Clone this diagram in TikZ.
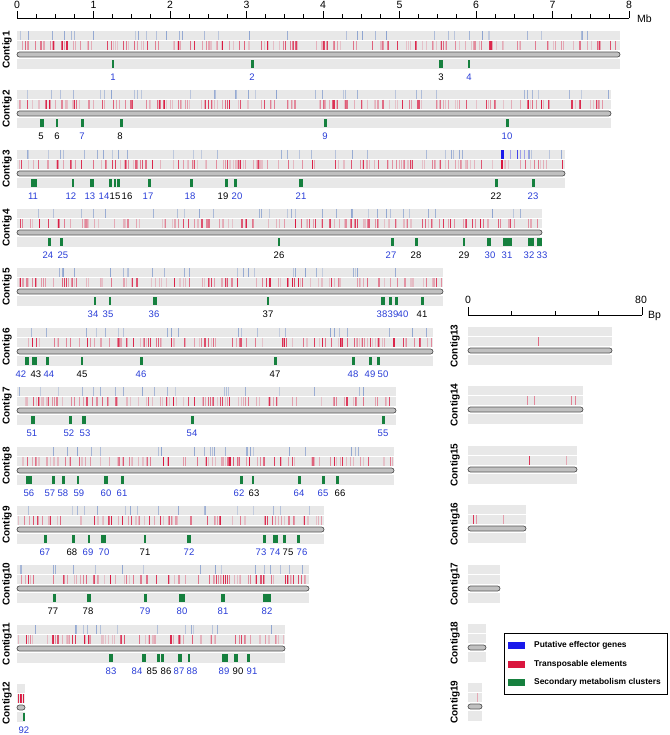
\documentclass[tikz,border=0pt]{standalone}
\usepackage{fontspec}
\setmainfont{Liberation Sans}

\definecolor{trackgray}{RGB}{232,232,232}
\definecolor{bargray}{RGB}{192,192,192}
\definecolor{baredge}{RGB}{85,85,85}
\definecolor{tered}{RGB}{218,22,62}
\definecolor{effblue}{RGB}{25,25,235}
\definecolor{efflight}{RGB}{110,140,200}
\definecolor{smgreen}{RGB}{22,128,62}
\definecolor{lblblue}{RGB}{40,60,215}

\begin{document}
\begin{tikzpicture}[x=1pt, y=-1pt,
  track/.style={fill=trackgray},
  chrom/.style={fill=bargray, draw=baredge, line width=0.7pt, rounded corners=2.5pt},
  smbox/.style={fill=smgreen},
  axline/.style={line width=0.9pt},
  clabel/.style={font=\bfseries\fontsize{10}{11}\selectfont, rotate=90, inner sep=0pt},
  nlabel/.style={font=\fontsize{9.5}{11}\selectfont, inner sep=0pt},
  alabel/.style={font=\fontsize{10.5}{12}\selectfont, inner sep=0pt},
  llabel/.style={font=\bfseries\fontsize{8.4}{10}\selectfont, anchor=west, inner sep=0pt}]

\useasboundingbox (0,0) rectangle (669,735);

% Mb scale
\draw[axline] (17,18) -- (629,18);
\foreach \i in {1,...,31} {
\draw[axline] ({17+76.5*\i/4},18) -- ({17+76.5*\i/4},14.5);
}
\foreach \i in {0,...,8} {
\draw[axline] ({17+76.5*\i},18) -- ({17+76.5*\i},11);
\node[alabel] (mb\i) at ({17+76.5*\i},5) {\i};
}
\node[alabel, anchor=west] (mb) at (637,19) {Mb};

% Large contigs: tracks, random TE and effector marks, bar
\foreach \cn/\yy/\xe in {1/31/620, 2/90/611, 3/150/565, 4/209/542, 5/268/443, 6/328/433,
  7/387/396, 8/447/394, 9/506/324, 10/565/309, 11/625/285, 12/684/25} {
\fill[track] (17,\yy) rectangle (\xe,\yy+9);
\fill[track] (17,\yy+10) rectangle (\xe,\yy+19);
\fill[track] (17,\yy+28) rectangle (\xe,\yy+38);
\pgfmathsetseed{\cn*13+5}
\pgfmathtruncatemacro\nte{0.26*(\xe-17)}
\foreach \k in {1,...,\nte} {
  \pgfmathsetmacro\px{18+rnd*(\xe-19)}
  \pgfmathsetmacro\rr{rnd}
  \pgfmathtruncatemacro\pc{18+82*\rr*\rr}
  \pgfmathsetmacro\lw{rnd<0.12 ? 1.7 : 0.95}
  \draw[draw=tered!\pc!trackgray, line width=\lw pt] (\px,\yy+10) -- (\px,\yy+19);
}
\pgfmathtruncatemacro\nef{0.06*(\xe-17)}
\ifnum\nef>0
\foreach \k in {1,...,\nef} {
  \pgfmathsetmacro\px{18+rnd*(\xe-19)}
  \pgfmathtruncatemacro\pc{30+45*rnd}
  \draw[draw=efflight!\pc!trackgray, line width=0.7pt] (\px,\yy) -- (\px,\yy+9);
}
\fi
\draw[chrom] (17,\yy+21) rectangle (\xe,\yy+26);
\node[clabel] (c\cn) at (7,\yy+19) {Contig\cn};
}

% Contig12 TE marks
\draw[tered, line width=1pt] (20,694) -- (20,703);
\draw[tered, line width=1pt] (23,694) -- (23,703);

% Effector genes on Contig3
\fill[effblue] (500.5,150) rectangle (503.5,159);
\foreach \px/\pc in {510/35, 517/80, 520/35, 524/35, 528/35} {
\draw[draw=effblue!\pc!trackgray, line width=0.8pt] (\px,150) -- (\px,159);
}
\draw[tered, line width=1.8pt] (502,160) -- (502,169);

% Bp scale
\draw[axline] (468,315) -- (642,315);
\foreach \i in {1,...,3} {
\draw[axline] ({468+43.5*\i},315) -- ({468+43.5*\i},310.5);
}
\draw[axline] (468,315) -- (468,307);
\draw[axline] (642,315) -- (642,307);
\node[alabel] (bp0) at (468,300) {0};
\node[alabel] (bp80) at (641,300) {80};
\node[alabel, anchor=west] (bp) at (648,316) {Bp};

% Small contigs
\foreach \cn/\yy/\xe in {13/327/612, 14/386/583, 15/446/577, 16/505/526,
  17/565/500, 18/624/486, 19/683/482} {
\fill[track] (468,\yy) rectangle (\xe,\yy+9);
\fill[track] (468,\yy+10) rectangle (\xe,\yy+19);
\fill[track] (468,\yy+28) rectangle (\xe,\yy+38);
\draw[chrom] (468,\yy+21) rectangle (\xe,\yy+26);
\node[clabel] (c\cn) at (455,\yy+19) {Contig\cn};
}
\foreach \yy/\px/\pc in {327/538/60, 386/527/45, 386/534/45, 386/571/50, 386/575/50,
  446/529/85, 446/566/30, 505/473/85, 505/476/40, 505/503/35, 683/477/30} {
\draw[draw=tered!\pc!trackgray, line width=1pt] (\px,\yy+10) -- (\px,\yy+19);
}

% Secondary metabolism clusters with their numbers
\foreach \yy/\x/\w/\n/\col/\lx in {
  31/113/2/1/lblblue/113, 31/252/3/2/lblblue/252, 31/441/4/3/black/441, 31/469/1.5/4/lblblue/469,
  90/42/4/5/black/41, 90/57/1.5/6/black/57, 90/82/3/7/lblblue/82, 90/121/3/8/black/120,
  90/325/3/9/lblblue/325, 90/507/3/10/lblblue/507,
  150/34/6/11/lblblue/33, 150/73/2/12/lblblue/71, 150/92/4/13/lblblue/90, 150/110/3/14/lblblue/104,
  150/115/2/15/black/115, 150/118.5/3/16/black/127, 150/149/3/17/lblblue/148, 150/191/3/18/lblblue/190,
  150/226/3/19/black/223, 150/235/3/20/lblblue/237, 150/301/4/21/lblblue/301, 150/496/3/22/black/496,
  150/533/3/23/lblblue/533,
  209/49/3/24/lblblue/48, 209/61/3/25/lblblue/63, 209/279/1.5/26/black/279, 209/392/3/27/lblblue/391,
  209/416/3/28/black/416, 209/464/1.5/29/black/464, 209/489/4/30/lblblue/490, 209/507/9/31/lblblue/507,
  209/531/6/32/lblblue/529, 209/539/5/33/lblblue/542,
  268/95/2/34/lblblue/93, 268/110/1.5/35/lblblue/108, 268/155/4/36/lblblue/154, 268/268/1.5/37/black/268,
  268/383/4/38/lblblue/382, 268/390/3/39/lblblue/393, 268/396/3/40/lblblue/403, 268/422/3/41/black/422,
  328/27/4/42/lblblue/21, 328/34/5/43/black/36, 328/47/3/44/lblblue/49, 328/82/1.5/45/black/82,
  328/141/3/46/lblblue/141, 328/275/3/47/black/275, 328/353/3/48/lblblue/353, 328/370/3/49/lblblue/370,
  328/378/3/50/lblblue/383,
  387/33/4/51/lblblue/32, 387/70/3/52/lblblue/69, 387/84/4/53/lblblue/85, 387/192/3/54/lblblue/192,
  387/383/3/55/lblblue/383,
  447/29/6/56/lblblue/29, 447/53/3/57/lblblue/50, 447/63/3/58/lblblue/63, 447/78/1.5/59/lblblue/79,
  447/106/4/60/lblblue/106, 447/122/3/61/lblblue/122, 447/241/3/62/lblblue/239, 447/253/1.5/63/black/254,
  447/299/3/64/lblblue/299, 447/323/3/65/lblblue/323, 447/337/3/66/black/340,
  506/45/3/67/lblblue/45, 506/73/3/68/black/72, 506/89/1.5/69/lblblue/88, 506/103/5/70/lblblue/104,
  506/145/1.5/71/black/145, 506/189/4/72/lblblue/189, 506/264/3/73/lblblue/261, 506/275/5/74/lblblue/275,
  506/284/3/75/black/288, 506/298/3/76/lblblue/302,
  565/54/3/77/black/53, 565/89/4/78/black/88, 565/145/3/79/lblblue/145, 565/182/6/80/lblblue/182,
  565/223/4/81/lblblue/223, 565/267/8/82/lblblue/267,
  625/111/4/83/lblblue/111, 625/144/4/84/lblblue/137, 625/158/3/85/black/152, 625/162/3/86/black/166,
  625/180/4/87/lblblue/179, 625/189/1.5/88/lblblue/192, 625/225/6/89/lblblue/224, 625/236/4/90/black/238,
  625/248/3/91/lblblue/252,
  684/24/2/92/lblblue/24} {
\fill[smbox] (\x-\w/2,\yy+29) rectangle (\x+\w/2,\yy+37);
\node[nlabel, text=\col] (sm\n) at (\lx,\yy+46) {\n};
}

% Legend
\draw[line width=0.8pt] (504,633) rectangle (667,694);
\fill[effblue] (508,642) rectangle (525,649);
\fill[tered] (508,661) rectangle (525,668);
\fill[smgreen] (508,679) rectangle (525,686);
\node[llabel] (leg1) at (534,645.5) {Putative effector genes};
\node[llabel] (leg2) at (534,664.5) {Transposable elements};
\node[llabel] (leg3) at (534,682.5) {Secondary metabolism clusters};

\end{tikzpicture}
\end{document}
